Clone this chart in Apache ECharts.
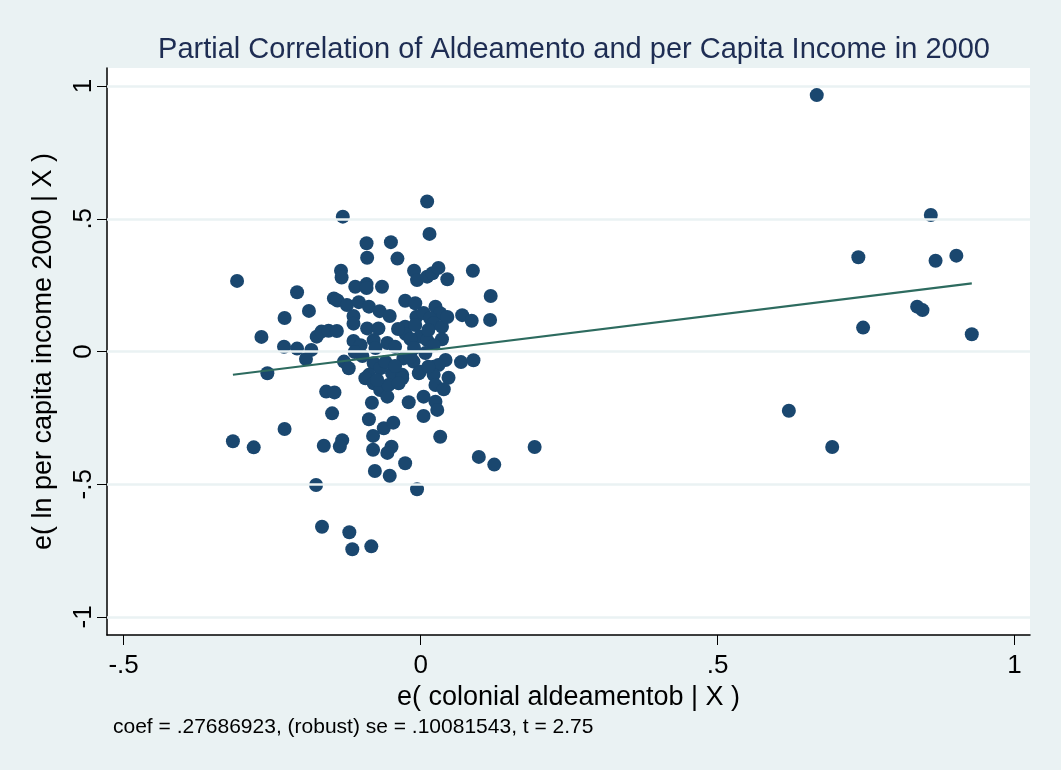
<!DOCTYPE html>
<html>
<head>
<meta charset="utf-8">
<script src="https://cdn.jsdelivr.net/npm/echarts@6/dist/echarts.min.js"></script>
<style>
  html, body { margin: 0; padding: 0; background: #eaf2f3; }
  #chart { width: 1061px; height: 770px; }
</style>
</head>
<body>
<div id="chart"></div>
<script>
// residual pairs: [e(aldeamento | X), e(ln income | X)]
const points = [
  [-0.309, 0.266], [-0.316, -0.338], [-0.281, -0.361], [-0.268, 0.055], [-0.258, -0.082],
  [-0.229, -0.292], [-0.229, 0.126], [-0.208, 0.223], [-0.230, 0.018], [-0.208, 0.011],
  [-0.188, 0.153], [-0.184, 0.006], [-0.193, -0.028], [-0.175, 0.056], [-0.167, 0.075],
  [-0.155, 0.078], [-0.141, 0.077], [-0.131, 0.508], [0.011, 0.565], [0.015, 0.443],
  [-0.091, 0.408], [-0.050, 0.412], [-0.090, 0.353], [-0.039, 0.350], [-0.134, 0.304],
  [-0.133, 0.279], [-0.110, 0.244], [-0.091, 0.254], [-0.091, 0.239], [-0.065, 0.244],
  [-0.011, 0.304], [-0.006, 0.269], [0.011, 0.282], [0.020, 0.295], [0.030, 0.315],
  [0.045, 0.272], [0.088, 0.304], [0.118, 0.209], [0.117, 0.119], [0.070, 0.137],
  [0.086, 0.116], [-0.146, 0.200], [-0.140, 0.192], [-0.124, 0.175], [-0.104, 0.186],
  [-0.087, 0.169], [-0.069, 0.152], [-0.052, 0.134], [-0.113, 0.134], [-0.113, 0.105],
  [-0.090, 0.087], [-0.071, 0.087], [-0.079, 0.043], [-0.113, 0.040], [-0.101, 0.024],
  [-0.111, -0.002], [-0.076, 0.013], [-0.056, 0.032], [-0.043, 0.018], [-0.026, 0.191],
  [-0.009, 0.182], [-0.026, 0.093], [-0.025, 0.066], [-0.007, 0.131], [0.005, 0.145],
  [0.025, 0.169], [0.033, 0.144], [0.016, 0.125], [0.022, 0.106], [0.036, 0.093],
  [-0.001, 0.056], [0.011, 0.043], [0.036, 0.046], [0.022, 0.024], [0.042, -0.032],
  [0.068, -0.040], [0.089, -0.033], [-0.129, -0.038], [-0.121, -0.063], [-0.079, -0.044],
  [-0.068, -0.063], [-0.048, -0.082], [-0.031, -0.088], [-0.029, -0.026], [-0.012, -0.038],
  [-0.001, -0.076], [0.022, -0.057], [0.030, -0.051], [0.047, -0.099], [-0.087, -0.088],
  [-0.093, -0.101], [-0.079, -0.120], [-0.031, -0.101], [-0.068, -0.145], [-0.056, -0.170],
  [-0.054, -0.126], [-0.003, -0.082], [0.022, -0.088], [0.025, -0.126], [0.039, -0.142],
  [0.005, -0.170], [0.025, -0.189], [0.028, -0.220], [0.005, -0.243], [-0.020, -0.191],
  [-0.082, -0.193], [-0.159, -0.151], [-0.145, -0.154], [-0.149, -0.233], [-0.087, -0.255],
  [-0.062, -0.289], [-0.046, -0.268], [-0.080, -0.318], [0.033, -0.321], [-0.163, -0.355],
  [-0.132, -0.334], [-0.136, -0.358], [-0.080, -0.370], [-0.049, -0.359], [-0.056, -0.382],
  [-0.026, -0.421], [-0.077, -0.450], [-0.052, -0.468], [-0.006, -0.519], [-0.176, -0.503],
  [0.098, -0.397], [0.124, -0.426], [0.192, -0.360], [-0.166, -0.660], [-0.120, -0.681],
  [-0.115, -0.745], [-0.083, -0.734], [-0.017, -0.020], [0.013, -0.057], [-0.037, -0.120],
  [-0.073, -0.107], [-0.017, 0.047], [-0.038, 0.085], [0.013, 0.081], [-0.009, 0.100],
  [0.045, 0.130], [0.008, -0.006], [-0.098, -0.017], [-0.059, -0.040], [-0.043, -0.055],
  [-0.011, 0.013],
  [0.667, 0.966], [0.859, 0.514], [0.737, 0.355], [0.867, 0.342], [0.902, 0.361],
  [0.836, 0.169], [0.845, 0.156], [0.745, 0.090], [0.928, 0.065], [0.620, -0.223],
  [0.693, -0.360],
];

// fitted line end points (slope .27686923 through the origin)
const fitLine = [[-0.316, -0.0875], [0.928, 0.2569]];

const xTicks = [-0.5, 0, 0.5, 1];
const xTickLabels = ['-.5', '0', '.5', '1'];
const yTicks = [-1, -0.5, 0, 0.5, 1];
const yTickLabels = ['-1', '-.5', '0', '.5', '1'];

const TITLE = 'Partial Correlation of Aldeamento and per Capita Income in 2000';
const X_NAME = 'e( colonial aldeamentob | X )';
const Y_NAME = 'e( ln per capita income 2000 | X )';
const NOTE = 'coef = .27686923, (robust) se = .10081543, t = 2.75';

const FONT = '"Liberation Sans", Arial, sans-serif';
const DOT_COLOR = '#1a476f';
const FIT_COLOR = '#2d6b5f';
const GRID_COLOR = '#eaf2f3';

function tickLabel(values, labels) {
  return (value) => {
    const i = values.findIndex((v) => Math.abs(v - value) < 1e-9);
    return i >= 0 ? labels[i] : '';
  };
}

const chart = echarts.init(document.getElementById('chart'), null, { renderer: 'canvas' });

chart.setOption({
  animation: false,
  backgroundColor: '#eaf2f3',
  textStyle: { fontFamily: FONT },
  title: {
    text: TITLE,
    left: 569,
    top: 30,
    textAlign: 'center',
    textStyle: { color: '#1e2d53', fontSize: 29, fontWeight: 'normal', fontFamily: FONT },
  },
  grid: {
    left: 107,
    right: 31,
    top: 68,
    bottom: 135,
    show: true,
    backgroundColor: '#ffffff',
    borderWidth: 0,
  },
  xAxis: {
    type: 'value',
    min: -0.528,
    max: 1.026,
    name: X_NAME,
    nameLocation: 'middle',
    nameGap: 44,
    nameTextStyle: { color: '#000', fontSize: 27, fontFamily: FONT },
    axisLine: { show: true, onZero: false, lineStyle: { color: '#000', width: 1.5 } },
    axisTick: { show: true, length: 10, customValues: xTicks, lineStyle: { color: '#000', width: 1 } },
    axisLabel: {
      customValues: xTicks,
      formatter: tickLabel(xTicks, xTickLabels),
      color: '#000',
      fontSize: 26,
      margin: 18,
    },
    splitLine: { show: false },
  },
  yAxis: {
    type: 'value',
    min: -1.068,
    max: 1.068,
    name: Y_NAME,
    nameLocation: 'middle',
    nameGap: 50,
    nameRotate: 90,
    nameTextStyle: { color: '#000', fontSize: 27, fontFamily: FONT },
    axisLine: { show: true, onZero: false, lineStyle: { color: '#000', width: 1.5 } },
    axisTick: { show: true, length: 10, customValues: yTicks, lineStyle: { color: '#000', width: 1 } },
    axisLabel: {
      customValues: yTicks,
      formatter: tickLabel(yTicks, yTickLabels),
      rotate: 90,
      color: '#000',
      fontSize: 26,
      margin: 10,
    },
    splitLine: { show: false },
  },
  graphic: [
    {
      type: 'text',
      left: 113,
      top: 717,
      style: { text: NOTE, fill: '#000', font: `21px ${FONT}` },
    },
  ],
  series: [
    {
      name: 'grid',
      type: 'line',
      data: [],
      silent: true,
      z: 1,
      markLine: {
        silent: true,
        symbol: 'none',
        label: { show: false },
        lineStyle: { color: GRID_COLOR, width: 2.5, type: 'solid' },
        data: yTicks.map((v) => ({ yAxis: v })),
      },
    },
    {
      name: 'residuals',
      type: 'scatter',
      data: points,
      symbol: 'circle',
      symbolSize: 14,
      z: 3,
      itemStyle: { color: DOT_COLOR, opacity: 1 },
    },
    {
      name: 'fit',
      type: 'line',
      data: fitLine,
      showSymbol: false,
      symbol: 'none',
      z: 4,
      lineStyle: { color: FIT_COLOR, width: 2.2 },
    },
  ],
});
</script>
</body>
</html>
